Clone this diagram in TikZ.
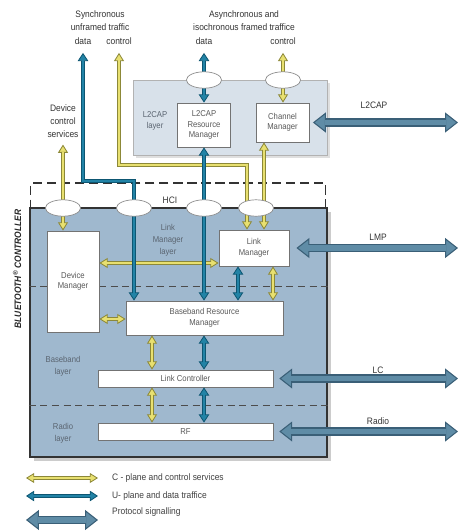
\documentclass[tikz,border=0pt]{standalone}
\usepackage{fontspec}
\setmainfont[FakeStretch=0.9]{Liberation Sans}
\usetikzlibrary{positioning, arrows.meta, shapes.geometric, shadows}

\definecolor{ctrlblue}{HTML}{9FB8CE}
\definecolor{l2blue}{HTML}{D8E1EA}
\definecolor{cedge}{HTML}{8C8838}
\definecolor{cfill}{HTML}{E8E070}
\definecolor{uedge}{HTML}{0D5672}
\definecolor{ufill}{HTML}{2283A6}
\definecolor{pedge}{HTML}{3A5F77}
\definecolor{pfill}{HTML}{5F8CA6}
\definecolor{labgray}{HTML}{5A6470}

\begin{document}
\begin{tikzpicture}[x=0.03cm, y=-0.03cm, font=\fontsize{8}{11}\selectfont,
        tipC/.tip={Triangle[length=7pt,width=8.5pt,fill=cfill,line width=0.7pt]},
        tipU/.tip={Triangle[length=7pt,width=9pt,fill=ufill,line width=0.7pt]},
        tipP/.tip={Triangle[length=11pt,width=17pt,fill=pfill,line width=0.9pt]},
        cpl/.style={draw=cedge, line width=3.4pt, tipC-tipC,
                postaction={draw=cfill, line width=1.8pt, arrows=-, shorten <=6pt, shorten >=6pt}},
        upl/.style={draw=uedge, line width=4pt, tipU-tipU,
                postaction={draw=ufill, line width=2.2pt, arrows=-, shorten <=6pt, shorten >=6pt}},
        ppl/.style={draw=pedge, line width=7pt, tipP-tipP,
                postaction={draw=pfill, line width=5pt, arrows=-, shorten <=10pt, shorten >=10pt}},
        box/.style={draw=black!55, fill=white, line width=0.7pt, inner sep=0pt, align=center,
                text=black!65, font=\fontsize{7.3}{9}\selectfont},
        port/.style={ellipse, draw=black!45, fill=white, line width=0.6pt,
                minimum width=30pt, minimum height=14pt, inner sep=0pt},
        layertxt/.style={align=center, text=labgray, font=\fontsize{7.3}{10}\selectfont},
        toptxt/.style={align=center, text=black!80, inner sep=1pt},
        sep/.style={draw=black!70, line width=0.7pt, dash pattern=on 6pt off 4pt}]
        \useasboundingbox (0,0) rectangle (468,532);

        \node[draw=black!80, line width=1.5pt, dash pattern=on 8pt off 4pt,
                minimum width=8.85cm, minimum height=1.2cm] (hcireg) at (178,203) {};
        \node[draw=black!80, line width=2.5pt, fill=ctrlblue, minimum width=8.91cm, minimum height=7.47cm,
                drop shadow={shadow xshift=3.5pt, shadow yshift=-3.5pt, opacity=0.4}] (ctrl) at (178.5,332.5) {};
        \node[draw=black!30, fill=l2blue, minimum width=5.82cm, minimum height=2.25cm,
                drop shadow={shadow xshift=2.5pt, shadow yshift=-2.5pt, opacity=0.25}] (l2cap) at (230,117.5) {};

        \draw[sep] (ctrl.west |- 0,286) -- (ctrl.east |- 0,286);
        \draw[sep] (ctrl.west |- 0,405) -- (ctrl.east |- 0,405);

        \node[layertxt] (l2lay) at (155,121) {L2CAP\\layer};
        \node[box, minimum width=1.59cm, minimum height=1.32cm] (l2rm) at (204,125) {L2CAP\\Resource\\Manager};
        \node[box, minimum width=1.59cm, minimum height=1.17cm] (cm) at (282.5,122.5) {Channel\\Manager};

        \node[box, minimum width=1.56cm, minimum height=3.03cm] (dm) at (73,281.5) {Device\\Manager};
        \node[box, minimum width=2.1cm, minimum height=1.08cm] (lm) at (254,248) {Link\\Manager};
        \node[box, minimum width=4.71cm, minimum height=1.02cm] (brm) at (204.5,318) {Baseband Resource\\Manager};
        \node[box, minimum width=5.25cm, minimum height=0.51cm] (lc) at (185.5,378.5) {Link Controller};
        \node[box, minimum width=5.25cm, minimum height=0.51cm] (rf) at (185.5,431.5) {RF};

        \node[layertxt] (lmlay) at (168,240.5) {Link\\Manager\\layer};
        \node[layertxt] (bblay) at (63,366) {Baseband\\layer};
        \node[layertxt] (rflay) at (63,433) {Radio\\layer};
        \node[text=black!80] (hci) at (170,200) {HCI};
        \node[rotate=90, text=black!85, font=\bfseries\itshape\fontsize{8}{8}\selectfont] (btc) at (17,269)
                {BLUETOOTH\textsuperscript{\textregistered} CONTROLLER};

        \node[toptxt] (sync) at (100,21) {Synchronous\\unframed traffic};
        \node[toptxt] (sdata) at (83,41) {data};
        \node[toptxt] (sctrl) at (119,41) {control};
        \node[toptxt] (async) at (244,21) {Asynchronous and\\isochronous framed traffice};
        \node[toptxt] (adata) at (204,41) {data};
        \node[toptxt] (actrl) at (283,41) {control};
        \node[toptxt] (dcs) at (63,121) {Device\\control\\services};

        \coordinate (bendC) at (247,165);
        \coordinate (bendU) at (134,181);
        \coordinate (rim) at (458,0);

        \draw[cpl] ([yshift=-5pt]dcs.south) -- (dcs.south |- dm.north);
        \draw[cpl] ([yshift=-6pt]sctrl.south) |- (bendC) -- (bendC |- lm.north);
        \draw[cpl] ([yshift=-6pt]actrl.south) -- (actrl.south |- cm.north);
        \draw[cpl] (cm.south -| 264,0) -- (lm.north -| 264,0);
        \draw[cpl] (dm.east |- 0,263) -- (lm.west |- 0,263);
        \draw[cpl] (dm.east |- 0,319) -- (brm.west |- 0,319);
        \draw[cpl] (lm.south -| 273,0) -- (brm.north -| 273,0);
        \draw[cpl] (brm.south -| 152,0) -- (lc.north -| 152,0);
        \draw[cpl] (lc.south -| 152,0) -- (rf.north -| 152,0);

        \draw[upl] ([yshift=-6pt]sdata.south) |- (bendU) -- (bendU |- brm.north);
        \draw[upl] ([yshift=-6pt]adata.south) -- (adata.south |- l2rm.north);
        \draw[upl] (l2rm.south) -- (l2rm.south |- brm.north);
        \draw[upl] (lm.south -| 238,0) -- (brm.north -| 238,0);
        \draw[upl] (brm.south -| 204,0) -- (lc.north -| 204,0);
        \draw[upl] (lc.south -| 204,0) -- (rf.north -| 204,0);

        \draw[ppl] ([xshift=3pt]cm.east) -- (cm.east -| rim);
        \draw[ppl] ([xshift=6pt]lm.east) -- (lm.east -| rim);
        \draw[ppl] ([xshift=5pt]lc.east) -- (lc.east -| rim);
        \draw[ppl] ([xshift=5pt]rf.east) -- (rf.east -| rim);
        \node[text=black!80] (pl2) at (374,105) {L2CAP};
        \node[text=black!80] (plm) at (378,237) {LMP};
        \node[text=black!80] (plc) at (378,370) {LC};
        \node[text=black!80] (prf) at (378,421) {Radio};

        \node[port] (p1) at (63,208) {};
        \node[port] (p2) at (134,208) {};
        \node[port] (p3) at (204,208) {};
        \node[port] (p4) at (256,208) {};
        \node[port] (p5) at (204,80) {};
        \node[port] (p6) at (283,80) {};

        \coordinate (lgl) at (26,0);
        \coordinate (lgr) at (98,0);
        \node[anchor=west, text=black!75] (lgC) at (108,478) {C - plane and control services};
        \node[anchor=west, text=black!75] (lgU) at (108,496) {U- plane and data traffice};
        \node[anchor=west, text=black!75] (lgP) at (108,512) {Protocol signalling};
        \draw[cpl] (lgl |- lgC) -- (lgr |- lgC);
        \draw[upl] (lgl |- lgU) -- (lgr |- lgU);
        \draw[ppl] (lgl |- 0,520) -- (lgr |- 0,520);
\end{tikzpicture}
\end{document}
